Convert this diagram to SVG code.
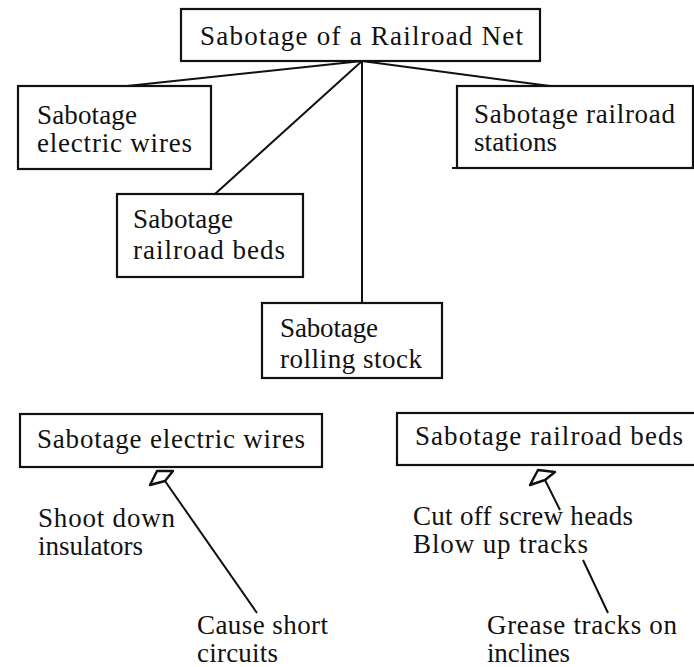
<svg xmlns="http://www.w3.org/2000/svg" width="694" height="667" viewBox="0 0 694 667">
<style>
.box{fill:#fff;stroke:#111;stroke-width:2.2}
.t{font-family:"Liberation Serif","DejaVu Serif","Times New Roman",serif;font-size:27px;fill:#111}
.c{fill:none;stroke:#111;stroke-width:2}
.ah{fill:none;stroke:#111;stroke-width:2.4;stroke-linejoin:round}
</style>
<rect width="694" height="667" fill="#fff"/>
<g id="connectors">
<line class="c" x1="362" y1="61" x2="127" y2="86"/>
<line class="c" x1="362" y1="61" x2="215" y2="194"/>
<line class="c" x1="362" y1="61" x2="362" y2="303"/>
<line class="c" x1="362" y1="61" x2="550" y2="86"/>
<polygon class="ah" points="165,481 150,485 157,471 173,471"/>
<line class="c" x1="165" y1="481" x2="257" y2="613"/>
<polygon class="ah" points="545,480 530,485 538,470 555,472"/>
<line class="c" x1="545" y1="480" x2="560" y2="510"/>
<line class="c" x1="583" y1="560" x2="608" y2="613"/>
</g>
<g id="root">
<rect class="box" x="181" y="9" width="359" height="52"/>
<text class="t" x="200" y="45" textLength="323" lengthAdjust="spacing">Sabotage of a Railroad Net</text>
</g>
<g id="electric-wires">
<rect class="box" x="18" y="86" width="193" height="83"/>
<text class="t" x="37" y="124" textLength="100" lengthAdjust="spacing">Sabotage</text>
<text class="t" x="37" y="152" textLength="155" lengthAdjust="spacing">electric wires</text>
</g>
<g id="railroad-beds">
<rect class="box" x="117" y="194" width="186" height="83"/>
<text class="t" x="133" y="228" textLength="100" lengthAdjust="spacing">Sabotage</text>
<text class="t" x="133" y="259" textLength="152" lengthAdjust="spacing">railroad beds</text>
</g>
<g id="railroad-stations">
<rect class="box" x="457" y="86" width="236" height="82"/>
<line class="c" x1="452" y1="168" x2="457" y2="168"/>
<text class="t" x="474" y="123" textLength="201" lengthAdjust="spacing">Sabotage railroad</text>
<text class="t" x="474" y="151" textLength="83" lengthAdjust="spacing">stations</text>
</g>
<g id="rolling-stock">
<rect class="box" x="262" y="303" width="180" height="75"/>
<text class="t" x="280" y="337" textLength="98" lengthAdjust="spacing">Sabotage</text>
<text class="t" x="280" y="368" textLength="142" lengthAdjust="spacing">rolling stock</text>
</g>
<g id="electric-wires-detail">
<rect class="box" x="20" y="414" width="302" height="53"/>
<text class="t" x="37" y="448" textLength="268" lengthAdjust="spacing">Sabotage electric wires</text>
</g>
<g id="shoot-down">
<text class="t" x="38" y="527" textLength="137" lengthAdjust="spacing">Shoot down</text>
<text class="t" x="38" y="555" textLength="105" lengthAdjust="spacing">insulators</text>
</g>
<g id="short-circuits">
<text class="t" x="197" y="634" textLength="131" lengthAdjust="spacing">Cause short</text>
<text class="t" x="197" y="662" textLength="81" lengthAdjust="spacing">circuits</text>
</g>
<g id="railroad-beds-detail">
<rect class="box" x="397" y="413" width="300" height="52"/>
<text class="t" x="415" y="445" textLength="268" lengthAdjust="spacing">Sabotage railroad beds</text>
</g>
<g id="screw-heads">
<text class="t" x="413" y="525" textLength="220" lengthAdjust="spacing">Cut off screw heads</text>
<text class="t" x="413" y="553" textLength="175" lengthAdjust="spacing">Blow up tracks</text>
</g>
<g id="grease-tracks">
<text class="t" x="487" y="634" textLength="190" lengthAdjust="spacing">Grease tracks on</text>
<text class="t" x="487" y="662" textLength="83" lengthAdjust="spacing">inclines</text>
</g>
</svg>
